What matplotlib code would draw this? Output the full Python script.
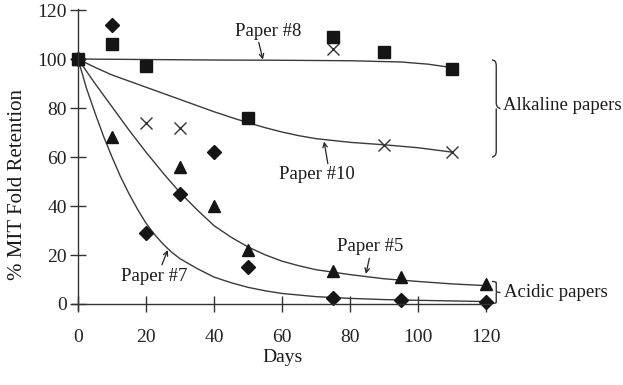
import matplotlib
matplotlib.use("Agg")
import matplotlib.pyplot as plt
from matplotlib.path import Path
from matplotlib.patches import PathPatch

plt.rcParams['font.family'] = ['Liberation Serif', 'DejaVu Serif']

# ---- measured data points ----
days_p8 = [0, 10, 20, 50, 75, 90, 110]
ret_p8 = [100, 106, 97, 76, 109, 103, 96]

days_p10 = [0, 20, 30, 75, 90, 110]
ret_p10 = [100, 74, 72, 104, 65, 62]

days_p5 = [0, 10, 30, 40, 50, 75, 95, 120]
ret_p5 = [100, 68, 56, 40, 22, 13.5, 11, 8]

days_p7 = [0, 10, 20, 30, 40, 50, 75, 95, 120]
ret_p7 = [100, 114, 29, 45, 62, 15, 2.5, 1.8, 1]

# ---- fitted curves ----
curve8_x = [0, 20, 40, 60, 80, 95, 103, 110]
curve8_y = [100, 99.8, 99.6, 99.5, 99.3, 98.8, 97.9, 96.5]

curve10_x = [0, 5, 10, 15, 20, 25, 30, 35, 40, 45, 50, 55, 60, 65, 70, 80, 90, 100, 110]
curve10_y = [100, 96.6, 93.5, 91, 88.5, 86, 83.5, 81, 78.5, 76.2, 74, 72, 70.2, 68.7, 67.5, 66, 65, 63.8, 62]

curve5_x = [0, 5, 10, 15, 20, 25, 30, 35, 40, 45, 50, 55, 60, 65, 70, 80, 90, 100, 110, 120]
curve5_y = [100, 90, 80.5, 71, 62, 53.5, 45.5, 38.5, 32, 27.3, 23.3, 20.1, 17.5, 15.6, 14, 12, 10.3, 9.2, 8.2, 7.5]

curve7_x = [0, 2.5, 5, 7.5, 10, 12.5, 15, 17.5, 20, 22.5, 25, 27.5, 30, 35, 40, 45, 50, 55, 60, 70, 80, 90, 100, 120]
curve7_y = [100, 88, 78, 68.5, 60, 52, 45, 38.7, 33, 28.4, 24.5, 21.2, 18.5, 14.5, 11, 8.7, 6.8, 5.4, 4.3, 3, 2.3, 1.8, 1.5, 1.0]

xticks = [0, 20, 40, 60, 80, 100, 120]
yticks = [0, 20, 40, 60, 80, 100, 120]

W, H = 623, 385
fig = plt.figure(figsize=(W / 100, H / 100), dpi=100)
ax = fig.add_axes([0.1154, 0.1945, 0.6727, 0.7826])
ax.set_xlim(-1.8, 121.5)
ax.set_ylim(-2.5, 120.5)

lc = '#3a3a3a'
ax.plot(curve8_x, curve8_y, color=lc, lw=1.0)
ax.plot(curve10_x, curve10_y, color=lc, lw=1.0)
ax.plot(curve5_x, curve5_y, color=lc, lw=1.0)
ax.plot(curve7_x, curve7_y, color=lc, lw=1.0)

mc = '#151515'
ax.plot(days_p10, ret_p10, ls='none', marker='x', ms=9, mew=1.0, color='#333333', clip_on=False)
ax.plot(days_p5, ret_p5, ls='none', marker='^', ms=9, color=mc, clip_on=False)
ax.plot(days_p7, ret_p7, ls='none', marker='D', ms=7.5, color=mc, clip_on=False)
ax.plot(days_p8, ret_p8, ls='none', marker='s', ms=8.5, color=mc, clip_on=False)

for s in ['top', 'right']:
    ax.spines[s].set_visible(False)
ax.spines['left'].set_position(('data', 0))
ax.spines['bottom'].set_position(('data', 0))
for s in ['left', 'bottom']:
    ax.spines[s].set_color('#333333')
    ax.spines[s].set_linewidth(1.0)

ax.set_xticks(xticks)
ax.set_yticks(yticks)
ax.tick_params(axis='both', direction='inout', length=12, width=1.0, color='#333333',
               labelsize=14, labelcolor='#222222')
ax.tick_params(axis='x', pad=12)
ax.tick_params(axis='y', pad=2)

fs = 13.5
tc = '#1a1a1a'
arw = dict(arrowstyle='->', color='#222222', lw=0.9, shrinkA=0, shrinkB=0,
           mutation_scale=8)
ax.annotate('Paper #8', xy=(54.4, 99.8), xytext=(55.9, 111.4), ha='center', va='center',
            fontsize=fs, color=tc, arrowprops=dict(arw, relpos=(0.35, 0.0)))
ax.annotate('Paper #10', xy=(72.4, 66.3), xytext=(70.3, 52.7), ha='center', va='center',
            fontsize=fs, color=tc, arrowprops=dict(arw, relpos=(0.65, 1.0)))
ax.annotate('Paper #5', xy=(84.7, 12.3), xytext=(85.9, 23.3), ha='center', va='center',
            fontsize=fs, color=tc, arrowprops=dict(arw, relpos=(0.5, 0.0)))
ax.annotate('Paper #7', xy=(26.4, 22.0), xytext=(22.4, 11.4), ha='center', va='center',
            fontsize=fs, color=tc, arrowprops=dict(arw, relpos=(0.6, 1.0)))


def brace(x0, x1, ytop, ybot):
    ym = (ytop + ybot) / 2.0
    xm = (x0 + x1) / 2.0
    d = (ytop - ybot) * 0.06
    verts = [(x0, ytop), (xm, ytop), (xm, ytop - d),
             (xm, ym + d),
             (xm, ym), (x1, ym), (x1, ym),
             (xm, ym), (xm, ym - d),
             (xm, ybot + d),
             (xm, ybot), (x0, ybot), (x0, ybot)]
    codes = [Path.MOVETO, Path.CURVE3, Path.CURVE3,
             Path.LINETO,
             Path.CURVE4, Path.CURVE4, Path.CURVE4,
             Path.MOVETO, Path.CURVE3,
             Path.LINETO,
             Path.CURVE4, Path.CURVE4, Path.CURVE4]
    p = PathPatch(Path(verts, codes), fill=False, color='#333333', lw=1.0, clip_on=False)
    ax.add_patch(p)


brace(121.8, 124.3, 99.6, 60.0)
brace(121.8, 124.3, 9.2, 0.2)
ax.text(125.0, 81.0, 'Alkaline papers', ha='left', va='center', fontsize=fs, color=tc)
ax.text(125.3, 4.8, 'Acidic papers', ha='left', va='center', fontsize=fs, color=tc)

fig.text(18 / W, 1 - 184 / H, '% MIT Fold Retention', rotation=90, ha='center', va='center',
         fontsize=15, color=tc)
fig.text(283 / W, 1 - 357 / H, 'Days', ha='center', va='center', fontsize=14, color=tc)

fig.savefig('out.png', dpi=100, facecolor='white')
